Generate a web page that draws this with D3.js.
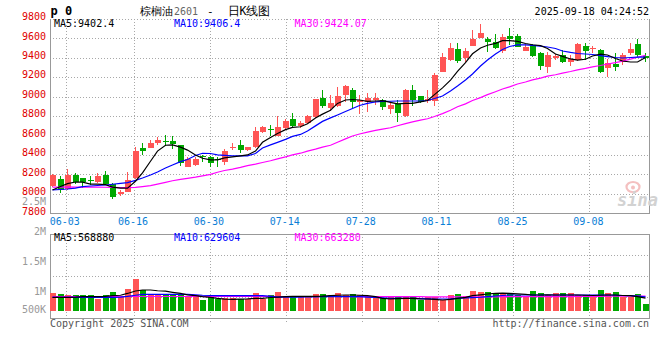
<!DOCTYPE html>
<html><head><meta charset="utf-8">
<script src="https://cdn.jsdelivr.net/npm/d3@7/dist/d3.min.js"></script>
<style>
html,body{margin:0;padding:0;background:#fff;}
svg{display:block;}
text{font-family:"DejaVu Sans Mono",monospace;}
</style></head><body>
<svg id="c" width="660" height="360"></svg>
<script>
// ---------- data ----------
const opens  = [8081,8153,8045,8194,8160,8140,8119,8194,8100,7998, 8023,8160,8470,8475,8525,8547,8547,8503,8280,8297,
                8385,8383,8355,8331,8470,8503,8455,8479,8640,8665, 8600,8674,8767,8695,8730,8790,8990,8885,8904,9020,
                9070,8940,8945,8965,8965,8873,8928,8800,9068,9006, 8958,8950,9256,9376,9490,9395,9523,9606,9592,9558,
                9465,9624,9626,9472,9530,9452,9300,9395,9425,9360, 9380,9520,9486,9479,9291,9332,9353,9445,9544,9421];
const highs  = [8204,8185,8256,8218,8165,8184,8218,8230,8110,8040, 8228,8485,8520,8550,8580,8605,8600,8503,8376,8375,
                8400,8390,8376,8465,8520,8554,8485,8685,8696,8708, 8800,8770,8831,8745,8810,8980,9068,9017,9102,9120,
                9086,9017,9034,9034,8975,8938,8965,9075,9115,9010, 9068,9240,9445,9550,9554,9495,9685,9746,9612,9640,
                9644,9702,9640,9540,9545,9462,9455,9440,9479,9428, 9550,9548,9520,9490,9384,9445,9445,9554,9589,9445];
const lows   = [8067,8010,8040,8100,8058,8091,8109,8091,7950,7975, 8020,8150,8400,8470,8500,8490,8460,8290,8273,8290,
                8331,8273,8273,8297,8451,8420,8440,8470,8630,8600, 8590,8660,8685,8680,8720,8780,8886,8855,8895,8948,
                8880,8821,8845,8914,8862,8821,8742,8795,8904,8930, 8931,8904,9250,9370,9349,9343,9520,9600,9462,9486,
                9452,9531,9505,9465,9410,9274,9246,9380,9343,9315, 9370,9376,9445,9240,9205,9266,9320,9430,9410,9359];
const closes = [8194,8040,8194,8120,8119,8134,8187,8100,7965,8018, 8143,8441,8444,8520,8550,8540,8513,8317,8359,8359,
                8378,8321,8345,8441,8479,8455,8482,8650,8690,8655, 8685,8750,8700,8730,8800,8975,8905,8938,9006,9110,
                8940,8968,8988,8983,8898,8914,8835,9068,8965,8940, 8980,9225,9410,9503,9366,9469,9592,9651,9558,9500,
                9608,9588,9510,9513,9418,9316,9430,9420,9360,9390, 9545,9472,9503,9250,9343,9301,9432,9492,9428,9402];
const volumes = [800,756,711,711,711,711,547,711,844,652, 978,1422,933,711,711,711,711,756,637,711,
                 489,637,519,593,593,547,547,800,519,711, 844,637,637,637,637,756,756,711,785,711,
                 756,711,637,637,563,637,681,607,607,489, 607,637,489,711,756,681,904,859,844,756,
                 785,785,711,637,904,785,711,785,785,785, 711,711,637,933,785,844,637,637,756,311].map(v => v * 1000);
const ma5  = [8040,8075,8105,8122,8120,8100,8100,8095,8070,8058, 8058,8130,8215,8335,8440,8500,8503,8480,8450,8400,
              8366,8350,8349,8370,8380,8390,8400,8440,8530,8580, 8620,8660,8684,8690,8720,8780,8820,8860,8930,8965,
              8970,8965,8950,8955,8958,8940,8925,8931,8931,8945, 8960,9020,9090,9170,9260,9350,9440,9500,9528,9548,
              9575,9575,9567,9546,9533,9524,9495,9438,9414,9387, 9376,9384,9418,9436,9428,9392,9366,9356,9356,9402];
const ma10 = [8040,8045,8050,8058,8074,8081,8086,8091,8099,8107, 8115,8138,8163,8194,8225,8266,8297,8331,8353,8395,
              8417,8415,8400,8395,8390,8390,8390,8415,8472,8503, 8529,8560,8591,8611,8647,8699,8745,8781,8811,8847,
              8878,8909,8931,8945,8950,8952,8955,8955,8955,8955, 8960,8980,9006,9058,9109,9171,9232,9315,9376,9438,
              9485,9515,9531,9531,9526,9520,9510,9495,9469,9454, 9443,9438,9433,9422,9412,9402,9397,9402,9405,9406];
const ma30 = [8070,8070,8071,8070,8070,8069,8069,8068,8067,8065, 8063,8066,8075,8085,8100,8118,8135,8148,8160,8172,
              8185,8200,8222,8240,8255,8272,8290,8305,8322,8340, 8360,8380,8400,8418,8440,8460,8480,8500,8530,8565,
              8595,8615,8635,8652,8665,8680,8700,8722,8740,8758, 8772,8795,8825,8860,8895,8925,8960,8990,9020,9050,
              9078,9100,9130,9150,9172,9190,9210,9225,9242,9258, 9275,9290,9305,9320,9335,9350,9365,9385,9405,9424];
const vma5  = [609,609,609,620,640,640,640,650,680,700, 780,890,933,933,900,880,830,780,720,681,
               640,607,560,530,519,530,540,560,560,600, 620,640,650,650,650,650,660,681,700,711,
               711,700,680,640,560,533,550,560,560,540, 533,520,489,520,560,607,681,720,756,785,
               790,785,760,740,711,711,720,711,711,711, 711,700,690,700,711,711,690,680,637,569].map(v => v * 1000);
const vma10 = [609,609,609,609,609,609,609,609,609,620, 650,700,742,742,742,742,742,742,742,720,
               700,690,680,680,680,680,680,680,680,650, 620,620,620,620,630,630,636,636,636,636,
               636,636,620,600,580,563,563,563,560,550, 540,533,533,540,560,580,593,610,640,667,
               690,711,711,711,711,711,711,711,711,711, 711,711,711,711,711,700,690,681,660,630].map(v => v * 1000);
const vma30 = [640,640,640,640,640,640,640,640,640,640, 645,645,645,645,645,645,645,645,645,645,
               650,650,650,650,650,650,650,650,650,650, 645,645,645,645,645,645,645,645,645,645,
               636,636,636,636,636,636,636,636,636,636, 630,630,630,630,630,630,630,630,630,630,
               640,640,640,640,640,640,640,640,640,640, 645,648,650,652,655,657,659,660,662,663].map(v => v * 1000);

const xTickLabels = ["06-03","06-16","06-30","07-14","07-28","08-11","08-25","09-08"];
const xTickIndex  = [2, 11, 21, 31, 41, 51, 61, 71];
const priceTicks  = [9800,9600,9400,9200,9000,8800,8600,8400,8200,8000,7800];
const volTicks    = [2500000,2000000,1500000,1000000,500000];
const volTickLabels = ["2.5M","2M","1.5M","1M","500K"];
const priceMaText = ["MA5:9402.4","MA10:9406.4","MA30:9424.07"];
const volMaText   = ["MA5:568880","MA10:629604","MA30:663280"];

// ---------- layout ----------
const L = 50, R = 649, PT = 18.8, PB = 213.3, VT = 234, VB = 318;
const RED = "#ff5555", GREEN = "#00a800", GRID = "#a8a8a8", BORDER = "#999";
const svg = d3.select("#c");
const n = closes.length;
const x  = d3.scaleLinear().domain([0, 80]).range([50, 650]);      // candle slots
const xg = d3.scaleLinear().domain([0, 80]).range([50.5, 657.7]);  // date grid
const yP = d3.scaleLinear().domain([7800, 9800]).range([PB, PT]);
const yV = d3.scaleLinear().domain([0, 1000000]).range([311, 288.5]);
const yVL = d3.scaleLinear().domain([500000, 2500000]).range([324, 204]);
const bx = i => Math.round(x(i));
const BW = 6;

// ---------- grids ----------
const g = svg.append("g").attr("shape-rendering","crispEdges");
priceTicks.filter(v => v !== 7800).forEach(v => {
  const yy = Math.round(yP(v)) + 0.5;
  g.append("line").attr("x1",L).attr("x2",R).attr("y1",yy).attr("y2",yy)
    .attr("stroke",GRID).attr("stroke-dasharray","1,2");
});
[0.25,0.5,0.75].forEach(f => {
  const yy = Math.round(VT + (VB - VT) * f) + 0.5;
  g.append("line").attr("x1",L).attr("x2",R).attr("y1",yy).attr("y2",yy)
    .attr("stroke",GRID).attr("stroke-dasharray","1,2");
});
xTickIndex.forEach(i => {
  const xx = Math.round(xg(i)) + 0.5;
  g.append("line").attr("x1",xx).attr("x2",xx).attr("y1",PT).attr("y2",PB)
    .attr("stroke",GRID).attr("stroke-dasharray","1,2");
  g.append("line").attr("x1",xx).attr("x2",xx).attr("y1",VT).attr("y2",VB + 4)
    .attr("stroke",GRID).attr("stroke-dasharray","1,2");
});
// borders
const bPB = Math.round(PB) + 0.5;
g.append("line").attr("x1",L+0.5).attr("x2",L+0.5).attr("y1",PT).attr("y2",bPB).attr("stroke",BORDER);
g.append("line").attr("x1",R+0.5).attr("x2",R+0.5).attr("y1",PT).attr("y2",bPB).attr("stroke",BORDER);
g.append("line").attr("x1",L).attr("x2",R+1).attr("y1",bPB).attr("y2",bPB).attr("stroke",BORDER).attr("stroke-width",1.5);
g.append("line").attr("x1",L+0.5).attr("x2",L+0.5).attr("y1",VT).attr("y2",VB+0.5).attr("stroke",BORDER);
g.append("line").attr("x1",R+0.5).attr("x2",R+0.5).attr("y1",VT).attr("y2",VB+0.5).attr("stroke",BORDER);
g.append("line").attr("x1",L).attr("x2",R+1).attr("y1",VT+0.5).attr("y2",VT+0.5).attr("stroke",BORDER);
g.append("line").attr("x1",L).attr("x2",R+1).attr("y1",VB+0.5).attr("y2",VB+0.5).attr("stroke",BORDER).attr("stroke-width",1.5);

// ---------- watermark ----------
const wm = svg.append("g");
wm.append("ellipse").attr("cx",633).attr("cy",187).attr("rx",6.5).attr("ry",5)
  .attr("fill","none").attr("stroke","#f4c0c0").attr("stroke-width",2.2);
wm.append("circle").attr("cx",633).attr("cy",187.5).attr("r",2).attr("fill","#f4c0c0");
wm.append("text").attr("x",617).attr("y",206).attr("font-family","Liberation Sans, Arial, sans-serif")
  .attr("font-size",17).attr("font-weight","bold").attr("font-style","italic")
  .attr("fill","#d2d2d2").text("sina");

// ---------- candles ----------
const cg = svg.append("g").attr("shape-rendering","crispEdges");
d3.range(n).forEach(i => {
  const up = closes[i] >= opens[i];
  const col = up ? RED : GREEN;
  const left = bx(i);
  const yh = Math.round(yP(highs[i])), yl = Math.round(yP(lows[i]));
  cg.append("rect").attr("x",left+2).attr("width",1).attr("y",yh).attr("height",Math.max(1,yl-yh)).attr("fill",col);
  const yt = Math.round(yP(Math.max(opens[i],closes[i])));
  const yb = Math.round(yP(Math.min(opens[i],closes[i])));
  cg.append("rect").attr("x",left).attr("width",BW).attr("y",yt).attr("height",Math.max(1,yb-yt)).attr("fill",col);
});

// ---------- MA lines (price) ----------
const lineP = d3.line().x((d,i) => bx(i) + 2.5).y(d => yP(d));
[[ma30,"#ff00ff"],[ma10,"#0000ff"],[ma5,"#000000"]].forEach(([arr,c]) => {
  svg.append("path").attr("d",lineP(arr)).attr("fill","none").attr("stroke",c).attr("stroke-width",1.2);
});

// ---------- volume ----------
const vg = svg.append("g").attr("shape-rendering","crispEdges");
volumes.forEach((v,i) => {
  const up = closes[i] >= opens[i];
  const yt = Math.round(yV(v));
  vg.append("rect").attr("x",bx(i)).attr("width",BW).attr("y",yt).attr("height",Math.round(yV(0))-yt)
    .attr("fill", up ? RED : GREEN);
});
const lineV = d3.line().x((d,i) => bx(i) + 2.5).y(d => yV(d));
[[vma30,"#ff00ff"],[vma10,"#0000ff"],[vma5,"#000000"]].forEach(([arr,c]) => {
  svg.append("path").attr("d",lineV(arr)).attr("fill","none").attr("stroke",c).attr("stroke-width",1.2);
});

// ---------- axis labels ----------
priceTicks.forEach(v => {
  svg.append("text").attr("x",46).attr("y",yP(v) + 1.3).attr("text-anchor","end")
    .attr("font-size",10).attr("fill","#e00000").text(v);
});
volTicks.forEach((v,k) => {
  svg.append("text").attr("x",46).attr("y",Math.min(yVL(v) + 0.5, 313)).attr("text-anchor","end")
    .attr("font-size",10).attr("fill","#999").text(volTickLabels[k]);
});
xTickIndex.forEach((i,k) => {
  svg.append("text").attr("x",xg(i) - 1).attr("y",225).attr("text-anchor","middle")
    .attr("font-size",10).attr("fill","#0a7ed6").text(xTickLabels[k]);
});

// ---------- headers ----------
const maCols = ["#000","#0000ff","#ff00ff"], maX = [54,174,294.5];
priceMaText.forEach((t,k) => svg.append("text").attr("x",maX[k]).attr("y",27.3).attr("font-size",10).attr("fill",maCols[k]).text(t));
volMaText.forEach((t,k) => svg.append("text").attr("x",maX[k]).attr("y",241).attr("font-size",10).attr("fill",maCols[k]).text(t));

svg.append("text").attr("x",50.5).attr("y",15).attr("font-size",12).attr("font-weight","bold").attr("fill","#000").text("p 0");
const cjk = '"Noto Sans CJK SC", sans-serif';
svg.append("text").attr("x",140).attr("y",15).attr("font-family",cjk).attr("font-size",11).attr("fill","#000").text("棕榈油");
svg.append("text").attr("x",174).attr("y",15).attr("font-family","DejaVu Sans, sans-serif").attr("font-size",10).attr("fill","#666").text("2601");
svg.append("text").attr("x",207).attr("y",15).attr("font-family",cjk).attr("font-size",11).attr("fill","#000").text("-");
svg.append("text").attr("x",227.5).attr("y",15).attr("font-family",cjk).attr("font-size",11.5).attr("fill","#000").text("日K线图");
svg.append("text").attr("x",649).attr("y",15).attr("text-anchor","end").attr("font-size",10).attr("fill","#000").text("2025-09-18 04:24:52");

svg.append("text").attr("x",50).attr("y",327).attr("font-size",10).attr("fill","#555").text("Copyright 2025 SINA.COM");
svg.append("text").attr("x",649).attr("y",327).attr("text-anchor","end").attr("font-size",10).attr("fill","#555").text("http://finance.sina.com.cn");
</script>
</body></html>
